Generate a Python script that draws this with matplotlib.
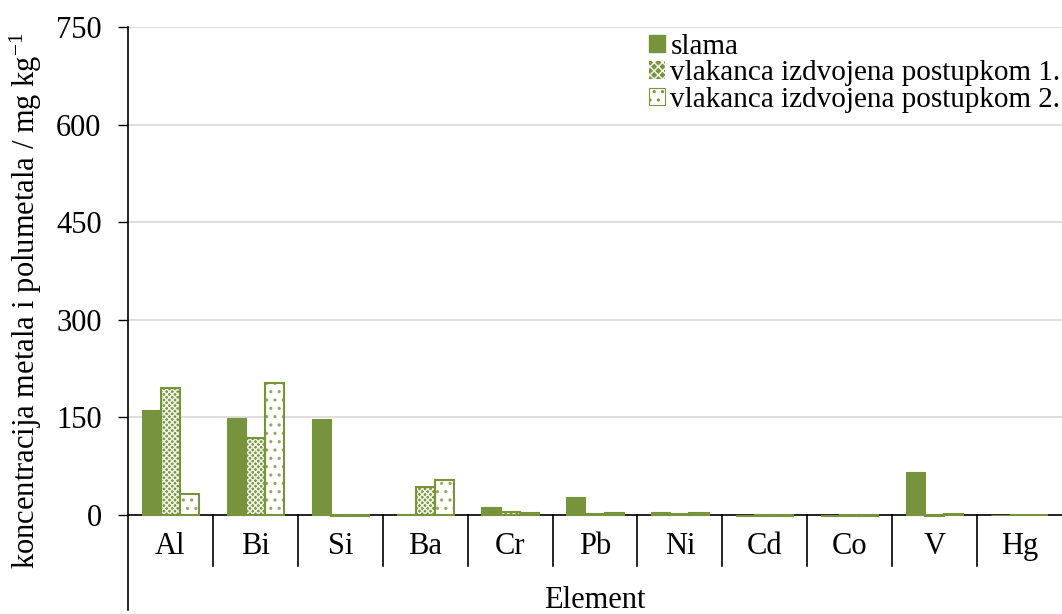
import numpy as np
import matplotlib
matplotlib.use('Agg')
import matplotlib.pyplot as plt
from matplotlib.patches import Patch
from matplotlib.lines import Line2D

plt.rcParams['font.family'] = 'Liberation Serif'
plt.rcParams['mathtext.fontset'] = 'custom'
plt.rcParams['mathtext.rm'] = 'Liberation Serif'
plt.rcParams['mathtext.it'] = 'Liberation Serif:italic'
plt.rcParams['hatch.linewidth'] = 1.1

# data
elements = ['Al', 'Bi', 'Si', 'Ba', 'Cr', 'Pb', 'Ni', 'Cd', 'Co', 'V', 'Hg']
slama = [161, 149, 147, 2, 12, 27, 4, -1, -1, 66, 0]
postupak1 = [195, 118, -2, 43, 4, 1, 2, -1, -1, -1, 0]
postupak2 = [32, 203, -2, 54, 3, 3, 3, -1, -1, 1, 0]

green = '#77933C'
dotgreen = '#8fac5a'

fig, ax = plt.subplots(figsize=(10.62, 6.14), dpi=100)
fig.subplots_adjust(left=128/1062, right=1.0, bottom=99/614, top=587/614)

x = np.arange(len(elements))
w = 0.225

ax.bar(x - w, slama, w, color=green, edgecolor=green, lw=0.8, clip_on=False, zorder=3)
# crosshatch: green face, white hatch, green outline
ax.bar(x, postupak1, w, color=green, edgecolor='#eef2e4', hatch='xxxxxx', lw=0, clip_on=False, zorder=3)
ax.bar(x, postupak1, w, fill=False, edgecolor=green, lw=1.5, clip_on=False, zorder=4)
# dotted: white face, green dots
ax.bar(x + w, postupak2, w, color='white', edgecolor=dotgreen, hatch='..', lw=0, clip_on=False, zorder=3)
ax.bar(x + w, postupak2, w, fill=False, edgecolor=green, lw=1.5, clip_on=False, zorder=4)

ax.set_xlim(-0.5, len(elements) - 0.5)
ax.set_ylim(0, 750)
ax.set_yticks(np.arange(0, 751, 150))
ax.yaxis.grid(True, color='#d9d9d9', lw=1.2)
ax.set_axisbelow(True)
ax.tick_params(axis='y', labelsize=22, length=7, width=1, pad=12)
ax.tick_params(axis='x', length=0, labelsize=22, pad=12)
ax.set_xticks(x)
ax.set_xticklabels(elements)

for s in ['top', 'right']:
    ax.spines[s].set_visible(False)
ax.spines['bottom'].set_linewidth(1.2)
ax.spines['left'].set_linewidth(1.2)

# category separators below the axis
for b in np.arange(0.5, len(elements) - 1, 1.0):
    ax.add_line(Line2D([b, b], [0, -0.105], transform=ax.get_xaxis_transform(),
                       color='black', lw=1.2, clip_on=False))
ax.add_line(Line2D([-0.5, -0.5], [0, -0.195], transform=ax.get_xaxis_transform(),
                   color='black', lw=1.2, clip_on=False))

ax.set_xlabel('Element', fontsize=22)
ax.xaxis.set_label_coords(0.5, -0.145)
ax.set_ylabel('koncentracija metala i polumetala / mg kg$^{\\mathrm{-1}}$', fontsize=22)
ax.yaxis.set_label_coords(-0.09, 0.44)

handles = [Patch(facecolor=green, edgecolor=green),
           Patch(facecolor=green, edgecolor='#eef2e4', hatch='xxxx', lw=0),
           Patch(facecolor='white', edgecolor=green, hatch='..', lw=0.8)]
labels = ['slama', 'vlakanca izdvojena postupkom 1.', 'vlakanca izdvojena postupkom 2.']
ax.legend(handles, labels, loc='upper right', bbox_to_anchor=(1.011, 1.01), frameon=False,
          fontsize=21, handlelength=0.55, handleheight=0.55, handletextpad=0.2,
          labelspacing=0.02, borderaxespad=0.0)

plt.savefig('out.png', dpi=100)
